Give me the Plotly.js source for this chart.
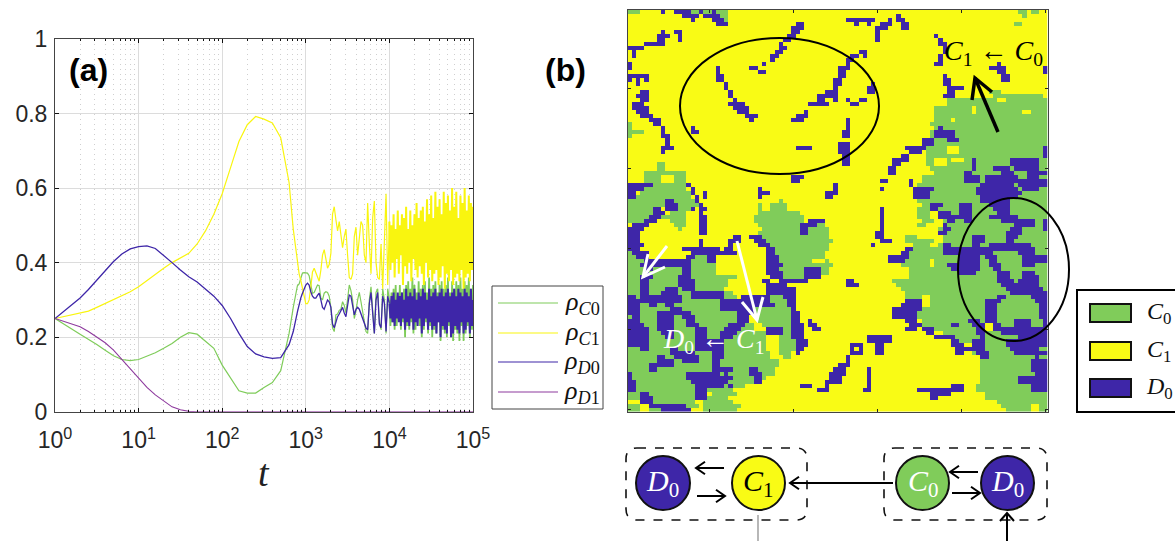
<!DOCTYPE html>
<html>
<head>
<meta charset="utf-8">
<script src="https://cdn.plot.ly/plotly-3.0.1.min.js"></script>
<style>html,body{margin:0;padding:0;background:#fff}#plot{width:1175px;height:541px}</style>
</head>
<body>
<div id="plot"></div>
<script>
const tEarly = [1,1.259,1.585,1.995,2.512,3.162,3.981,5.012,6.31,7.943,10,12.59,15.85,19.95,25.12,31.62,39.81,50.12,63.1,79.43,100,125.9,158.5,199.5,251.2,316.2,398.1,501.2,631,708];
const tMid = [794,832,871,912,955,1000,1047,1096,1148,1202,1259,1318,1380,1445,1514,1585,1660,1738,1820,1905,1995,2089,2188,2291,2399,2512,2630,2754,2884,3020,3162,
 3311,3467,3631,3802,3981,4169,4365,4571,4786,5012,5248,5495,5754,6026,6310,6607,6918,7244,7586,7943,8318,8710,9120,9550];
const tLate = [10000,10292,10593,10902,11220,11548,11885,12232,12589,12957,13335,13725,14125,14538,14962,15399,15849,16312,16788,17278,17783,18302,18836,19387,19953,20535,21135,21752,22387,23041,23714,24406,25119,25852,26607,27384,28184,29007,29854,30726,31623,32546,33497,34475,35481,36517,37584,38681,39811,40973,42170,43401,44668,45973,47315,48697,50119,51582,53088,54639,56234,57876,59566,61306,63096,64938,66834,68786,70795,72862,74989,77179,79433,81752,84140,86596,89125,91728,94406,97163,100000];
const t = tEarly.concat(tMid, tLate);

const rhoC0 = [.25,.235,.222,.208,.195,.18,.165,.15,.14,.137,.14,.148,.158,.17,.183,.2,.212,.208,.19,.17,.125,.09,.056,.05,.05,.065,.078,.11,.21,.28,
 .338,.343,.36,.372,.373,.373,.372,.365,.335,.318,.32,.33,.34,.338,.305,.3,.318,.322,.32,.31,.28,.225,.215,.26,.262,.272,.275,.295,.285,.265,.3,
 .34,.325,.3,.25,.27,.3,.32,.295,.27,.24,.215,.21,.3,.335,.28,.21,.32,.33,.24,.22,.33,.3,.21,.33,
 .30,.23,.32,.24,.33,.22,.34,.23,.31,.25,.34,.22,.32,.24,.33,.20,.34,.23,.35,.22,.33,.24,.36,.21,.34,.22,.32,.25,.35,.23,.33,.20,.34,.22,.35,.24,.32,.21,.36,.23,.33,.20,.34,.22,.35,.21,.32,.24,.34,.19,.35,.22,.33,.21,.34,.20,.36,.23,.32,.20,.35,.19,.33,.22,.35,.21,.34,.19,.36,.23,.33,.19,.35,.21,.34,.23,.36,.20,.33,.22,.34];
const rhoC1 = [.25,.255,.26,.263,.27,.28,.29,.3,.31,.322,.335,.352,.37,.385,.4,.413,.425,.45,.485,.53,.585,.655,.725,.77,.792,.785,.775,.735,.615,.49,
 .40,.37,.352,.33,.305,.29,.29,.30,.335,.375,.385,.375,.36,.35,.38,.42,.435,.41,.385,.395,.425,.53,.55,.515,.485,.51,.47,.44,.47,.49,.42,
 .36,.355,.37,.47,.495,.42,.47,.51,.50,.42,.40,.56,.45,.37,.52,.565,.40,.36,.355,.45,.33,.46,.585,.34,
 .51,.38,.50,.40,.53,.36,.49,.41,.54,.37,.50,.42,.53,.34,.52,.39,.55,.37,.49,.40,.54,.35,.50,.41,.53,.38,.56,.36,.52,.39,.54,.37,.55,.34,.51,.40,.57,.36,.53,.38,.58,.35,.52,.37,.59,.38,.55,.34,.57,.36,.53,.39,.59,.33,.56,.37,.58,.35,.54,.38,.60,.34,.55,.36,.59,.37,.52,.35,.58,.38,.56,.33,.60,.36,.54,.37,.58,.35,.56,.38,.55];
const rhoD0 = [.25,.268,.285,.305,.328,.354,.378,.403,.423,.437,.443,.445,.438,.42,.4,.38,.362,.348,.33,.31,.285,.25,.21,.175,.155,.147,.143,.145,.18,.215,
 .268,.292,.305,.318,.33,.34,.345,.34,.322,.31,.305,.305,.312,.318,.30,.28,.275,.29,.30,.295,.28,.235,.225,.24,.255,.262,.27,.28,.265,.255,.285,
 .313,.31,.285,.26,.275,.28,.275,.262,.25,.235,.225,.22,.29,.32,.27,.21,.30,.32,.235,.225,.31,.29,.215,.31,
 .29,.25,.31,.24,.32,.23,.30,.25,.32,.24,.31,.23,.32,.25,.30,.22,.33,.24,.31,.23,.32,.25,.31,.22,.33,.24,.30,.23,.32,.25,.31,.21,.33,.23,.32,.25,.30,.22,.33,.24,.31,.22,.32,.23,.33,.21,.31,.24,.32,.20,.33,.23,.31,.22,.32,.21,.33,.24,.31,.20,.32,.21,.33,.23,.31,.22,.33,.21,.32,.24,.31,.21,.33,.22,.32,.24,.31,.21,.33,.23,.30];
const tD1 = [1,1.259,1.585,1.995,2.512,3.162,3.981,5.012,6.31,7.943,10,12.59,15.85,19.95,25.12,31.62,39.81,50.12,100000];
const rhoD1 = [.25,.243,.236,.228,.215,.2,.185,.165,.14,.115,.09,.065,.045,.028,.013,.005,.001,0,0];

const xTickVals = [1,10,100,1000,10000,100000];
const xTickText = ['10<sup>0</sup>','10<sup>1</sup>','10<sup>2</sup>','10<sup>3</sup>','10<sup>4</sup>','10<sup>5</sup>'];
const yTickVals = [0,.2,.4,.6,.8,1];
const yTickText = ['0','0.2','0.4','0.6','0.8','1'];

// ---- panel (b): 100x100 lattice, cells listed per row as column runs ----
const greenCells = [
"0-2 15-16 18-19 21-23 93-94 96-97","21-23 94","22-23","92-93","","","","","","",
"","","","","","","","","","",
"86-88","87-88 89-98","76-87 90-99","76-99","73-81 83-99","73-81 83-93 96-99","73-99","73-76 78-99","0 72-99","0 73-99",
"0-3 72-99","0 72-99","72-99","72-99","71-75 79-99","71-75 79-99","71-99","71-72 76 80-99","7-8 71-72 76-99","7-8 72-99",
"4-13 73-99","4-7 11-13 70-99","4-7 11-13 70-99","3-13 69-99","3-13 69-99","3-14 68-99","0-14 69-99","0-15 36 69-99","0-16 31 34-37 70-99","0-5 12-14 31 34-37 69-72 74-99",
"0-5 10-13 31-40 69-71 75-99","0-4 8-13 30-41 69-71 75-99","0-3 10-13 30-41 70-72 75-99","11-13 31-41 43-46 69-70 75-99","12 32-47 74-99","31-47 74-99","32-47 66-68 75-99","32-48 66-72 75-99","33-47 68-71 74-99","34-47 67-99",
"0 35-46 67-99","0-1 15-19 35-46 65-99","0-20 36-43 47 65-71 73-99","0-20 36-48 65-71 73-99","0-20 36-47 67-99","0-20 36-47 67-99","0-25 36-41 67-99","0-23 36-38 63-99","0-23 35-37 64-99","0-22 34-37 65-99",
"0-24 33-36 66-99","0-25 34-37 66-69 72-99","0-26 33-37 66-69 72-99","0-37 68-69 72-99","0-38 68-99","0-38 68-99","0-28 31-39 68-99","0-28 31-39 70-99","0-29 32-39 70-84 88-99","0-29 37-39 72-84 88-99",
"0-32 36-39 75-99","0-32 36-39 77-99","0-32 36-39 77-99","0-32 36-39 82-99","0-32 36-39 82-99","0-33 36-38 82-99","0-33 37-38 84-99","0-35 84-99","0-35 84-99","0-34 84-99",
"0-34 84-99","0-32 84-99","0-30 84-99","0-27 83-99","0-24 83-99","0-2 5-17 20-25 85-99","0-2 5-15 19-23 85-99","5-15 18-24 88-99","0-2 5-16 18-26 89-95 98-99","0-2 5-14 18-25 90-95 98-99"
];
const blueCells = [
"8 11-14 17 20","13-16 18-21 64","15 20-22 52-58 62 64-65","21-23 40-41 54 57 60-62 65-66","39-41 59-61 65-66","8 11-12 39-40 59","7-9 12 38-39 59 73","7-8 12 37-38 59 74","4-8 36 74-75","0-3 36-37 75",
"1 35-36 55-56 75","1 34-35 53-54 56 74","34 52-53 74","0 32 52 73-74 88","0 21 29-30 50-52 86-89 99","21 31-32 50-51 88-89 99","0-4 21-22 50-51 75 89-90","0 2 4 21-22 49-50 75-76 89-90","2 23 49-50 58 75-76","23 49 57-58 76-79",
"3-4 24 47-49 57-58 76-77","2-4 24 45-49 75-77","3-4 25 45-46 49 52 55-56","1-3 24-27 43-47 53-54","1-4 25-28","2-4 26-28 42","3-5 28-30 40-42","5-7 29 39-41 52","6-7 52","8 15 52 74",
"8 15-16 51-52 73-77","8-9 51-52 73-77","9 70-72 76-78","9 50-52 70-72","8-10 40-43 50-52 66-70 99","8 50-52 67-69 99","51-52 65-66 99","51-52 63-66 82 91-97","51-52 63-64 82 91-97","62-63 82 87-90 92-97",
"62-63 80-81 89-91 95-99","39-41 80-83 85-92 95-97","39-40 60-61 67 80-83 85-99","0-5 14 49 67 84-91 93-99","0-3 15 31 49 60 68-72 83-92 94-97","0-1 15 18 31-33 47-49 68-71 83-93","0-1 16 18 31 47-48 68-71 84-92","9-10 16 84-90","9-11 17 72-74 79-81 86-90","6-7 9-11 15 17-18 60 72-73 79-81 87-90",
"6-8 17 60 74-76 79-81 88-90","5-7 17-18 60 74-81 86-92","4-6 17-18 43-46 60 76-77 80-81 89-96 99","1-4 17-18 41-42 43-44 60 75 92-96 99","0-3 17-18 41-42 60 75-76 91-93 99","0-2 17-18 41-42 59-60 74-75 90-93","0-2 25-26 29-31 59-60 82-84 90-92","0-2 17 24-26 30-32 60-62 82-84 90-91","0-3 17 24 31-33 58 75-76 82-83 86-91 92-95","0-2 13-21 23-24 33-34 66-67 75-80 81-91 92-96",
"1-4 15-25 33-34 65-66 75-86 93-96","2-4 14-15 19-20 33-35 62-66 79-83 85-87 94-99","4-14 19-20 33-35 62-65 79-83 86-87 94-99","3-14 33-36 76-83 86-88 94-96","4-5 13-14 33-35 42-45 77-83 87-88","4 13-14 33-36 42-45 79-82 88-90 94-96","3-5 12-14 34-36 42-45 88-90 94-97","3-4 12-15 32-33 36-42 52-53 88-91 93-97","3-4 12-15 33-37 52-54 89-97","3-4 9-11 13-15 33-39 90-98",
"3-4 8-11 15-22 33-39 91-99","0-1 3-12 15-22 27-33 37-39 88-89 96-99","0-2 3-12 22-33 38-39 66-69 85-88 97-99","0-2 5-6 9-10 22-34 38-39 65-69 85-87 98-99","0-2 10-12 22-23 24-29 39 63-69 85-87 98-99","0-2 7-12 13-14 26-29 39-40 63-65 66-68 85-87 98-99","1-2 7-10 13-15 26-28 39-40 63-65 66-68 85-87 98-99","0-2 7-10 14-15 26-28 39-40 43 66-68 81-83 85-87 92-95 99","0-3 7-10 14-16 24-27 39-41 43-44 67-69 77-78 82-84 87-88 92-95 99","0-4 7-10 16-18 23-26 33-36 39-41 44-45 66-68 70-72 83-84 87-88 89-95 96-99",
"0-4 8-10 16-18 22-25 33-36 39-41 71-72 83-84 89-94 95-99","0-4 9-10 16-18 22-24 39-41 57-62 73-75 76-77 84 93-99","0-4 16-22 40-42 57-62 77-78 82-84 90-99","0-4 16-22 40-42 53-55 59-60 77-79 82-84 90-99","3-4 10-11 16-22 40-41 53 55 59-60 78-81 82-84 91-97","10-15 20-22 40 53-55 59-60 78-79 83-85 92-99","7-8 11-16 20-22 52 84-85 97","7-10 13-16 20-21 52 96-99","5-10 20-21 50-52 96-99","5-6 20-24 29-30 49-51 57 96-99",
"0 14-21 23 29-31 48-51 57 97-99","0 14-24 30-31 48-50 57 93-99","0-1 15-23 30-31 47-50 57 93-99","0-1 16-22 24 41-43 47 57 77-79 96-99","0-1 16-18 45-47 56-57 69-73 74-79 96-99","3-4 16-18 72-73 74-76","3-5 16-18 72-73","3-5","5-13","8-14"
];
const stateColors = ['#80CC5A','#F9FB15','#3E26A8'];
const latticeX = [];
for (let i = 1; i <= 100; i++) latticeX.push(i);
const lattice = blueCells.map((_, r) => {
  const row = latticeX.map(() => 1);
  const paint = (txt, v) => txt.split(' ').filter(Boolean).forEach(s => {
    const [a, b] = s.split('-').map(Number);
    for (let c = a; c <= (b === undefined ? a : b); c++) row[c] = v;
  });
  paint(greenCells[r], 0);
  paint(blueCells[r], 2);
  return row;
});

// ---- page geometry helpers (paper fractions from page pixels) ----
const W = 1175, H = 541;
const X = p => p / W, Y = p => 1 - p / H;
const segPath = pts => pts.map((p, i) => (i ? 'L' : 'M') + X(p[0]) + ',' + Y(p[1])).join(' ');
const line = (x0, y0, x1, y1, color, width, dash) => ({type:'line', xref:'paper', yref:'paper', x0:X(x0), y0:Y(y0), x1:X(x1), y1:Y(y1), line:{color, width, dash:dash||'solid'}});
const box = (x0, y0, x1, y1, fill, color, width) => ({type:'rect', xref:'paper', yref:'paper', x0:X(x0), y0:Y(y0), x1:X(x1), y1:Y(y1), fillcolor:fill, line:{color, width}});
const oval = (x0, y0, x1, y1, fill, color, width) => ({type:'circle', xref:'paper', yref:'paper', x0:X(x0), y0:Y(y0), x1:X(x1), y1:Y(y1), fillcolor:fill, line:{color, width}});
const arrow = (x0, y0, x1, y1, b1, b2, color, width) => [
  {type:'path', xref:'paper', yref:'paper', path:segPath([[x0,y0],[x1,y1]]), line:{color, width}},
  {type:'path', xref:'paper', yref:'paper', path:segPath([b1,[x1,y1],b2]), line:{color, width}}
];
const hArrow = (x0, y, x1, s, color, width) => {
  const d = x1 > x0 ? -1 : 1;
  return arrow(x0, y, x1, y, [x1 + d*s, y - s*0.7], [x1 + d*s, y + s*0.7], color, width);
};
const rounded = (x0, y0, x1, y1, r) => {
  const f = (x, y) => X(x) + ',' + Y(y);
  return 'M' + f(x0 + r, y0) + ' L' + f(x1 - r, y0) + ' Q' + f(x1, y0) + ' ' + f(x1, y0 + r) +
    ' L' + f(x1, y1 - r) + ' Q' + f(x1, y1) + ' ' + f(x1 - r, y1) +
    ' L' + f(x0 + r, y1) + ' Q' + f(x0, y1) + ' ' + f(x0, y1 - r) +
    ' L' + f(x0, y0 + r) + ' Q' + f(x0, y0) + ' ' + f(x0 + r, y0) + ' Z';
};
const label = (x, y, text, size, color, opts) => Object.assign({xref:'paper', yref:'paper', x:X(x), y:Y(y), text, showarrow:false, xanchor:'center', yanchor:'middle', font:{family:'"Liberation Serif", serif', size, color}}, opts || {});
const cell = (a, n) => '<i>' + a + '</i><sub>' + n + '</sub>';

const seriesColors = {C0:'#7FCC5A', C1:'#F9F50F', D0:'#3E26A8', D1:'#8E3A9E'};
const splitAt = tEarly.length + tMid.length;
const curve = (name, xs, ys, color, width, extra) => Object.assign({type:'scatter', mode:'lines', x:xs, y:ys, name, line:{color, width}, hoverinfo:'skip', xaxis:'x', yaxis:'y'}, extra || {});
const traces = [
  curve('ρC0', t.slice(0, splitAt + 1), rhoC0.slice(0, splitAt + 1), seriesColors.C0, 1.2),
  curve('ρC1', t.slice(0, splitAt + 1), rhoC1.slice(0, splitAt + 1), seriesColors.C1, 1.2),
  curve('ρC0 late', t.slice(splitAt), rhoC0.slice(splitAt), seriesColors.C0, 1.8),
  curve('ρC1 late', t.slice(splitAt), rhoC1.slice(splitAt), seriesColors.C1, 2),
  curve('ρD0', t.slice(0, splitAt + 1), rhoD0.slice(0, splitAt + 1), seriesColors.D0, 1.3),
  curve('ρD0 late', t.slice(splitAt), rhoD0.slice(splitAt), seriesColors.D0, 2),
  curve('ρD1', tD1, rhoD1, seriesColors.D1, 1.1, {cliponaxis:false}),
  {type:'heatmap', x:latticeX, y:latticeX, z:lattice, zmin:0, zmax:2, showscale:false, hoverinfo:'skip', xaxis:'x2', yaxis:'y2',
   colorscale:[[0,stateColors[0]],[1/3,stateColors[0]],[1/3,stateColors[1]],[2/3,stateColors[1]],[2/3,stateColors[2]],[1,stateColors[2]]]}
];

const shapes = [
  box(492,286,603,409,'#fff','#444',1),
  line(498,303,558,303,seriesColors.C0,1.2),
  line(498,333,558,333,seriesColors.C1,1.2),
  line(498,362,558,362,seriesColors.D0,1.2),
  line(498,392,558,392,seriesColors.D1,1.2),
  box(1077,290,1180,412,'#fff','#000',2),
  box(1090,304,1131,322,stateColors[0],'#111',2),
  box(1090,342,1131,360,stateColors[1],'#111',2),
  box(1090,379,1131,397,stateColors[2],'#111',2),
  oval(680,38,879,174,'rgba(0,0,0,0)','#000',2),
  oval(958,198,1069,341,'rgba(0,0,0,0)','#000',2),
  ...arrow(998,132,975,78,[972,100],[992,92],'#000',3.5),
  ...arrow(667,246,643,277,[648,254],[665,267],'#fff',3),
  ...arrow(737,241,757,320,[742,302],[763,297],'#fff',3),
  {type:'path', xref:'paper', yref:'paper', path:rounded(626,448,807,520,11), line:{color:'#111', width:1.6, dash:'dash'}},
  {type:'path', xref:'paper', yref:'paper', path:rounded(884,448,1047,520,11), line:{color:'#111', width:1.6, dash:'dash'}},
  oval(636,456,690,510,stateColors[2],'#111',2),
  oval(732,456,785,510,stateColors[1],'#111',2),
  oval(896,456,949,510,stateColors[0],'#111',2),
  oval(981,456,1034,510,stateColors[2],'#111',2),
  ...hArrow(724,468,696,9,'#000',2),
  ...hArrow(697,496,725,9,'#000',2),
  ...hArrow(893,483,790,9,'#000',2),
  ...hArrow(978,472,950,9,'#000',2),
  ...hArrow(952,493,980,9,'#000',2),
  ...arrow(1007,541,1007,513,[1000,521],[1014,521],'#000',2),
  line(758,515,758,541,'#888',1.2)
];

const annotations = [
  {xref:'paper', yref:'paper', x:X(88), y:Y(70), text:'<b>(a)</b>', showarrow:false, xanchor:'center', yanchor:'middle', font:{family:'"Liberation Sans", Arial, sans-serif', size:32, color:'#000'}},
  {xref:'paper', yref:'paper', x:X(565), y:Y(70), text:'<b>(b)</b>', showarrow:false, xanchor:'center', yanchor:'middle', font:{family:'"Liberation Sans", Arial, sans-serif', size:32, color:'#000'}},
  label(264,473,'<i>t</i>',38,'#222'),
  label(582,303,'<i>ρ</i><sub><i>C</i>0</sub>',26,'#111'),
  label(582,333,'<i>ρ</i><sub><i>C</i>1</sub>',26,'#111'),
  label(582,362,'<i>ρ</i><sub><i>D</i>0</sub>',26,'#111'),
  label(582,392,'<i>ρ</i><sub><i>D</i>1</sub>',26,'#111'),
  label(993,52,cell('C',1)+' ← '+cell('C',0),28,'#000'),
  label(714,340,cell('D',0)+' ← '+cell('C',1),28,'#fff'),
  label(1159,313,cell('C',0),24,'#111'),
  label(1159,351,cell('C',1),24,'#111'),
  label(1159,388,cell('D',0),24,'#111'),
  label(663,483,cell('D',0),30,'#fff'),
  label(758,483,cell('C',1),30,'#000'),
  label(923,483,cell('C',0),30,'#fff'),
  label(1007,483,cell('D',0),30,'#fff')
];

const layout = {
  width:W, height:H, margin:{l:0,r:0,t:0,b:0}, paper_bgcolor:'#fff', plot_bgcolor:'#fff', showlegend:false,
  font:{family:'"Liberation Sans", Arial, sans-serif', color:'#262626'},
  xaxis:{type:'log', domain:[X(55),X(473)], range:[0,5], anchor:'y',
    tickmode:'array', tickvals:xTickVals, ticktext:xTickText, tickfont:{size:23,color:'#262626'}, ticklabelstandoff:8,
    ticks:'inside', ticklen:4, tickcolor:'#111', showgrid:true, gridcolor:'#dcdcdc', gridwidth:1,
    minor:{dtick:'D1', showgrid:true, gridcolor:'#cfcfcf', griddash:'1px,4px', gridwidth:1, ticks:'inside', ticklen:2, tickcolor:'#111'},
    showline:true, linecolor:'#444', linewidth:1, mirror:'ticks', zeroline:false},
  yaxis:{domain:[Y(411.7),Y(39)], range:[0,1], anchor:'x',
    tickmode:'array', tickvals:yTickVals, ticktext:yTickText, tickfont:{size:23,color:'#262626'}, ticklabelstandoff:2,
    ticks:'inside', ticklen:4, tickcolor:'#111', showgrid:true, gridcolor:'#dcdcdc', gridwidth:1,
    showline:true, linecolor:'#444', linewidth:1, mirror:'ticks', zeroline:false},
  xaxis2:{domain:[X(627.5),X(1047.5)], range:[0.5,100.5], anchor:'y2', tickmode:'array', tickvals:[20,40,60,80,100],
    showticklabels:false, ticks:'inside', ticklen:3, tickcolor:'#222', showgrid:false, zeroline:false, showline:true, linecolor:'#444', linewidth:1, mirror:'ticks'},
  yaxis2:{domain:[Y(411.7),Y(9.7)], range:[100.5,0.5], anchor:'x2', tickmode:'array', tickvals:[20,40,60,80,100],
    showticklabels:false, ticks:'inside', ticklen:3, tickcolor:'#222', showgrid:false, zeroline:false, showline:true, linecolor:'#444', linewidth:1, mirror:'ticks'},
  shapes, annotations
};
Plotly.newPlot('plot', traces, layout, {displayModeBar:false, staticPlot:true});
</script>
</body>
</html>
